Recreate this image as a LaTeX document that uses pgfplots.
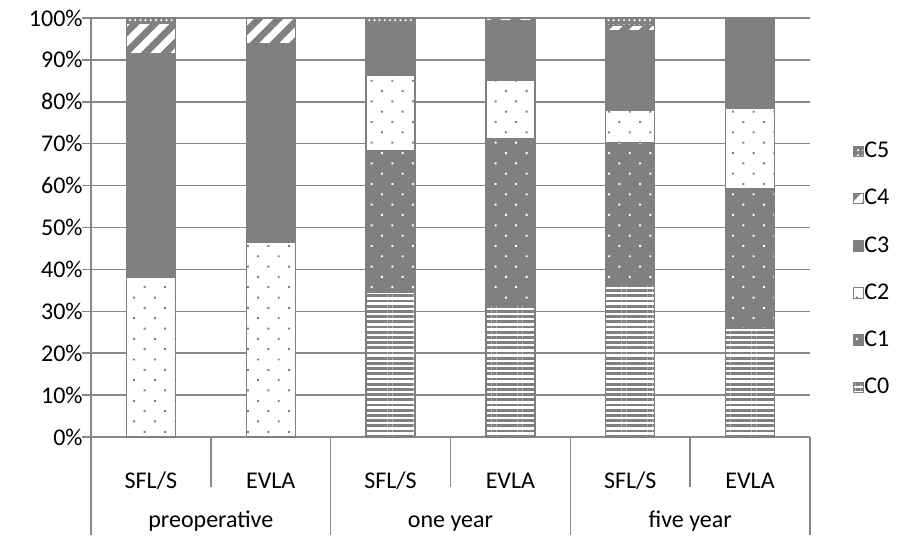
\documentclass[border=0pt]{standalone}
\usepackage{fontspec}
\setmainfont{Carlito}
\usepackage{pgfplots}
\pgfplotsset{compat=1.18}
\usetikzlibrary{patterns.meta}
\definecolor{cg}{HTML}{808080}
\definecolor{lg}{HTML}{888888}
\pgfplotsset{
  myleg/.style={legend image code/.code={\draw[##1, draw=cg, line width=0.6pt] (0pt,-2.6pt) rectangle (5.2pt,2.6pt);}},
}
\begin{document}
\begin{tikzpicture}[font=\fontsize{12pt}{14pt}\selectfont]
\useasboundingbox (0,0) rectangle (451.5pt,267.5pt);
\begin{axis}[
  at={(45.5pt,49pt)}, anchor=south west,
  scale only axis, width=359.5pt, height=209.5pt,
  ybar stacked, bar width=24.5pt,
  xmin=-0.5, xmax=5.5, ymin=0, ymax=100,
  xtick={0,1,2,3,4,5},
  xticklabels={SFL/S,EVLA,SFL/S,EVLA,SFL/S,EVLA},
  x tick style={draw=none},
  xticklabel style={anchor=base, yshift=-21.2pt},
  ytick={0,10,20,30,40,50,60,70,80,90,100},
  yticklabels={0\%,10\%,20\%,30\%,40\%,50\%,60\%,70\%,80\%,90\%,100\%},
  ymajorgrids, grid style={lg, line width=0.8pt},
  axis lines=left,
  axis line style={-, draw=lg, line width=0.8pt},
  y tick style={draw=lg, line width=0.8pt},
  tick align=outside, major tick length=4.5pt,
  yticklabel style={anchor=east, inner sep=0pt, xshift=0.5pt},
  clip=false,
  reverse legend,
  legend style={draw=none, fill=none, at={(1.059,0.4000)}, anchor=west,
    inner sep=0pt, row sep=14.3pt, legend cell align=left,
    nodes={inner sep=0pt},
    /tikz/every even column/.append style={column sep=4pt}},
]
% C0
\addplot[myleg, draw=cg, line width=0.6pt, fill=white, postaction={pattern={Lines[angle=0, distance=2.6pt, line width=1.4pt]}, pattern color=cg}]
  coordinates {(0,0) (1,0) (2,34.4) (3,31.3) (4,36.4) (5,25.9)};
% C1
\addplot[myleg, draw=cg, line width=0.6pt, fill=cg, postaction={pattern={Dots[angle=45, distance=7.3pt, radius=0.7pt]}, pattern color=white}]
  coordinates {(0,0) (1,0) (2,33.9) (3,40.0) (4,33.8) (5,33.4)};
% C2
\addplot[myleg, draw=cg, line width=0.6pt, fill=white, postaction={pattern={Dots[angle=45, distance=7.3pt, radius=0.7pt]}, pattern color=cg}]
  coordinates {(0,38.0) (1,46.5) (2,17.9) (3,13.9) (4,7.8) (5,19.1)};
% C3
\addplot[myleg, draw=cg, line width=0.6pt, fill=cg]
  coordinates {(0,53.4) (1,47.3) (2,12.4) (3,14.1) (4,19.0) (5,21.1)};
% C4
\addplot[myleg, draw=cg, line width=0.6pt, fill=white, postaction={pattern={Lines[angle=45, distance=7pt, line width=3.4pt]}, pattern color=cg}]
  coordinates {(0,7.4) (1,6.2) (2,0) (3,0.7) (4,1.3) (5,0.5)};
% C5
\addplot[myleg, draw=cg, line width=0.6pt, fill=cg, postaction={pattern={Dots[distance=2.6pt, radius=0.6pt]}, pattern color=white}]
  coordinates {(0,1.2) (1,0) (2,1.4) (3,0) (4,1.7) (5,0)};
\legend{C0,C1,C2,C3,C4,C5}
% category separators
\draw[lg, line width=0.8pt] (axis cs:-0.5,0) -- ([yshift=-49pt]axis cs:-0.5,0);
\draw[lg, line width=0.8pt] (axis cs:0.5,0) -- ([yshift=-25pt]axis cs:0.5,0);
\draw[lg, line width=0.8pt] (axis cs:1.5,0) -- ([yshift=-49pt]axis cs:1.5,0);
\draw[lg, line width=0.8pt] (axis cs:2.5,0) -- ([yshift=-25pt]axis cs:2.5,0);
\draw[lg, line width=0.8pt] (axis cs:3.5,0) -- ([yshift=-49pt]axis cs:3.5,0);
\draw[lg, line width=0.8pt] (axis cs:4.5,0) -- ([yshift=-25pt]axis cs:4.5,0);
\draw[lg, line width=0.8pt] (axis cs:5.5,0) -- ([yshift=-49pt]axis cs:5.5,0);
\node[anchor=base, yshift=-45pt] at (axis cs:0.5,0) {preoperative};
\node[anchor=base, yshift=-45pt] at (axis cs:2.5,0) {one year};
\node[anchor=base, yshift=-45pt] at (axis cs:4.5,0) {five year};
\end{axis}
\end{tikzpicture}
\end{document}
